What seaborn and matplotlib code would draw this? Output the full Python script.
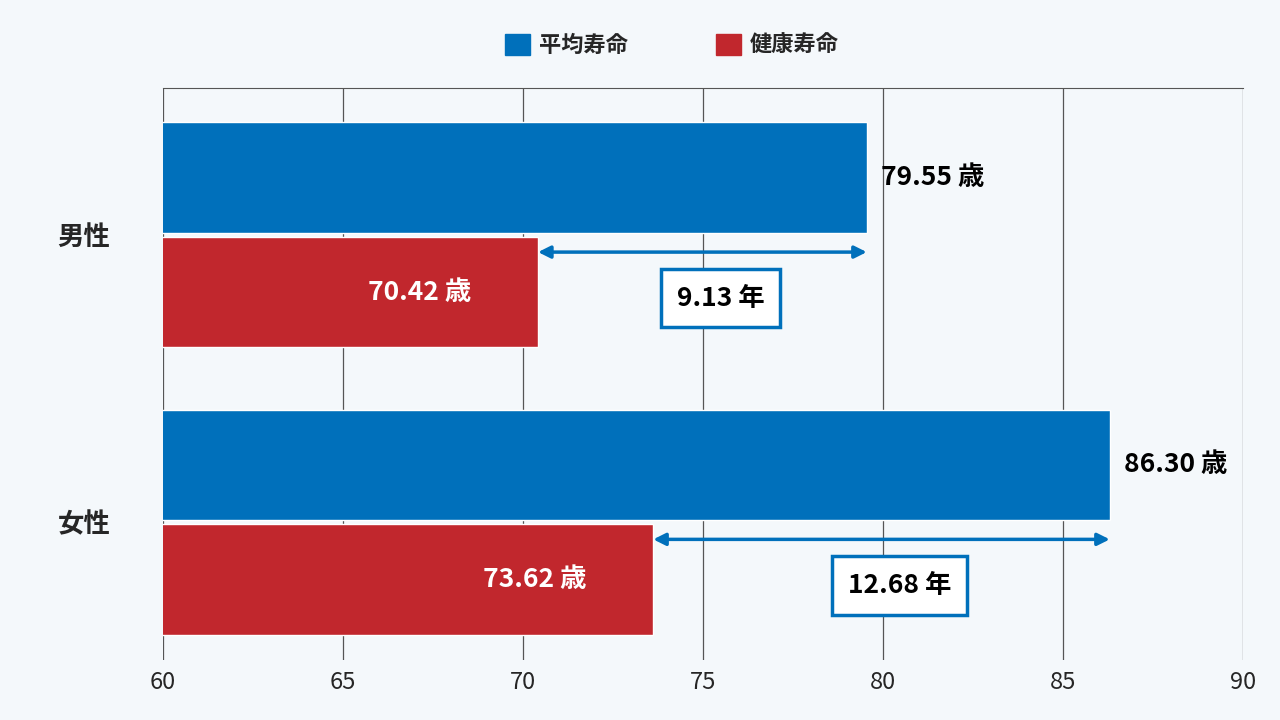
import pandas as pd
import matplotlib.pyplot as plt
import seaborn as sns
from matplotlib.patches import Patch

genders = ["男性", "女性"]
series = ["平均寿命", "健康寿命"]
avg_life = [79.55, 86.30]
healthy_life = [70.42, 73.62]
colors = {"平均寿命": "#0070bb", "健康寿命": "#c1272d"}

df = pd.DataFrame({
    "gender": genders * 2,
    "series": [series[0]] * 2 + [series[1]] * 2,
    "value": avg_life + healthy_life,
})

sns.set_style("white")
plt.rcParams["font.family"] = ["Noto Sans CJK JP", "DejaVu Sans"]
bg = "#f4f8fb"

fig = plt.figure(figsize=(12.8, 7.2), dpi=100, facecolor=bg)
ax = fig.add_axes([0.1273, 0.0833, 0.84375, 0.794], facecolor=bg)
ax.set_axisbelow(True)

sns.barplot(data=df, y="gender", x="value", hue="series", orient="h",
            palette=colors, width=0.8, gap=0.04, ax=ax, legend=False,
            saturation=1)

ax.set_xlim(60, 90)
ax.set_ylim(1.48, -0.51)
ax.set_xticks(range(60, 91, 5))
ax.grid(axis="x", color="#555555", linewidth=0.9)
for s in ["left", "right", "bottom"]:
    ax.spines[s].set_visible(False)
ax.spines["top"].set_color("#555555")
ax.set_xlabel("")
ax.set_ylabel("")
ax.tick_params(axis="x", length=0, labelsize=17, pad=8)
ax.tick_params(axis="y", length=0, labelsize=19, pad=38)
for t in ax.get_yticklabels():
    t.set_fontweight("bold")

for i in range(len(genders)):
    a, h = avg_life[i], healthy_life[i]
    ax.text(a + 0.4, i - 0.2, f"{a:.2f} 歳", va="center", ha="left",
            fontsize=19, fontweight="bold", color="black")
    ax.text(h - 3.3, i + 0.2, f"{h:.2f} 歳", va="center", ha="center",
            fontsize=19, fontweight="bold", color="white")
    ax.annotate("", xy=(h, i + 0.06), xytext=(a, i + 0.06),
                arrowprops=dict(arrowstyle="<|-|>", color="#0070bb", lw=2.5,
                                mutation_scale=18, shrinkA=0, shrinkB=0))
    ax.text((h + a) / 2 + 0.5, i + 0.22, f"{a - h:.2f} 年", va="center",
            ha="center", fontsize=19, fontweight="bold", color="black",
            bbox=dict(boxstyle="square,pad=0.6", fc="white", ec="#0070bb", lw=2.5))

handles = [Patch(color=colors[s], label=s) for s in series]
fig.legend(handles=handles, loc="center", bbox_to_anchor=(0.525, 0.937), ncol=2,
           frameon=False, prop={"size": 16, "weight": "bold"},
           handlelength=1.1, handleheight=1.1, columnspacing=4, handletextpad=0.4)

fig.savefig("out.png", dpi=100, facecolor=bg)
